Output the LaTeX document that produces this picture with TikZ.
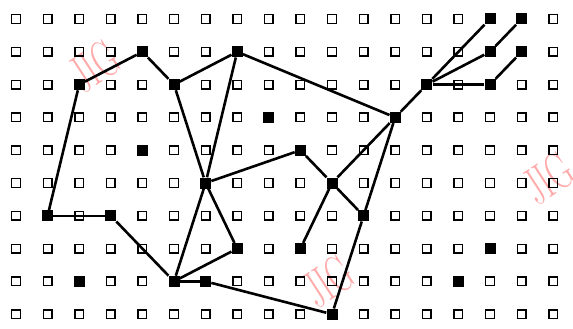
\documentclass[tikz,border=0pt]{standalone}
\usepackage{fontspec}
\setmainfont{Latin Modern Roman}
\begin{document}
\begin{tikzpicture}[x=1pt,y=-1pt,
  opensq/.style={draw=black,line width=1.4pt,minimum size=8.5pt,inner sep=0pt},
  fullsq/.style={fill=black,minimum size=11pt,inner sep=0pt},
  edge/.style={line width=2.6pt,black},
  wmark/.style={text=wm,inner sep=0pt,rotate=33,font=\fontsize{52}{52}\selectfont}]
\definecolor{wm}{RGB}{255,170,170}
\useasboundingbox (0,0) rectangle (573,329);
% watermarks
\node[wmark] (w1) at (94,66) {\scalebox{0.62}[1]{JIG}};
\node[wmark] (w2) at (328,281) {\scalebox{0.62}[1]{JIG}};
\node[wmark] (w3) at (548,178) {\scalebox{0.62}[1]{JIG}};
% open grid squares
\foreach \c in {0,...,17}{
  \foreach \r in {0,...,9}{
    \node[opensq] (g-\c-\r) at ({16+31.6*\c},{19+32.8*\r}) {};
  }
}
% filled squares
\foreach \c/\r in {15/0,16/0,4/1,7/1,15/1,16/1,2/2,5/2,13/2,15/2,8/3,12/3,4/4,9/4,6/5,10/5,1/6,3/6,11/6,7/7,9/7,15/7,2/8,5/8,6/8,14/8,10/9}{
  \node[fullsq] (f-\c-\r) at ({16+31.6*\c},{19+32.8*\r}) {};
}
% connectors
\draw[edge] (f-1-6) -- (f-3-6);
\draw[edge] (f-1-6) -- (f-2-2);
\draw[edge] (f-2-2) -- (f-4-1);
\draw[edge] (f-4-1) -- (f-5-2);
\draw[edge] (f-5-2) -- (f-7-1);
\draw[edge] (f-7-1) -- (f-12-3);
\draw[edge] (f-12-3) -- (f-13-2);
\draw[edge] (f-13-2) -- (f-15-0);
\draw[edge] (f-13-2) -- (f-15-1);
\draw[edge] (f-15-1) -- (f-16-0);
\draw[edge] (f-13-2) -- (f-15-2);
\draw[edge] (f-15-2) -- (f-16-1);
\draw[edge] (f-5-2) -- (f-6-5);
\draw[edge] (f-7-1) -- (f-6-5);
\draw[edge] (f-6-5) -- (f-9-4);
\draw[edge] (f-9-4) -- (f-10-5);
\draw[edge] (f-12-3) -- (f-10-5);
\draw[edge] (f-12-3) -- (f-11-6);
\draw[edge] (f-10-5) -- (f-11-6);
\draw[edge] (f-10-5) -- (f-9-7);
\draw[edge] (f-11-6) -- (f-10-9);
\draw[edge] (f-6-5) -- (f-5-8);
\draw[edge] (f-6-5) -- (f-7-7);
\draw[edge] (f-7-7) -- (f-5-8);
\draw[edge] (f-3-6) -- (f-5-8);
\draw[edge] (f-5-8) -- (f-6-8);
\draw[edge] (f-6-8) -- (f-10-9);
\end{tikzpicture}
\end{document}
